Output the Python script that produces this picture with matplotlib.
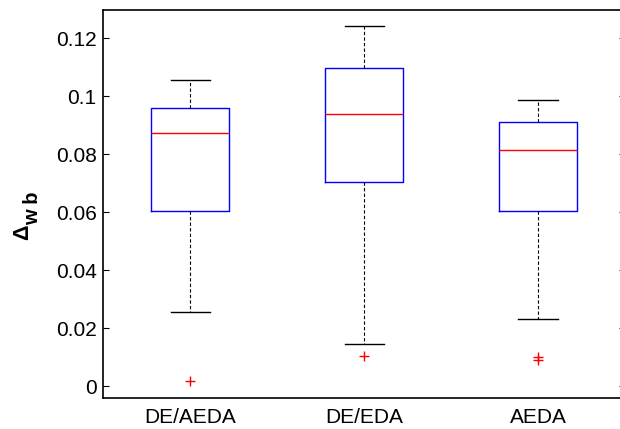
import matplotlib
matplotlib.use("Agg")
import matplotlib.pyplot as plt

plt.rcParams["font.family"] = ["Liberation Sans", "DejaVu Sans"]

# summary statistics of each algorithm's runs
methods = ["DE/AEDA", "DE/EDA", "AEDA"]
whisker_low = [0.0256, 0.0146, 0.0232]
q1 = [0.0605, 0.0703, 0.0605]
medians = [0.0873, 0.0939, 0.0815]
q3 = [0.0960, 0.1097, 0.0910]
whisker_high = [0.1055, 0.1241, 0.0986]
outliers = [[0.0017], [0.0103], [0.0099, 0.0091]]

stats = []
for i in range(len(methods)):
	stats.append({
		"label": methods[i],
		"whislo": whisker_low[i],
		"q1": q1[i],
		"med": medians[i],
		"q3": q3[i],
		"whishi": whisker_high[i],
		"fliers": outliers[i],
	})

fig = plt.figure(figsize=(6.2, 4.29), dpi=100)
ax = fig.add_axes([0.1669, 0.0711, 0.841, 0.9056])

ax.bxp(stats, positions=[1, 2, 3], widths=0.45, showfliers=True,
	boxprops=dict(color="blue", linewidth=1.0),
	medianprops=dict(color="red", linewidth=1.0),
	whiskerprops=dict(color="black", linestyle=(0, (3, 2)), linewidth=0.8),
	capprops=dict(color="black", linewidth=1.0),
	capwidths=0.225,
	flierprops=dict(marker="+", markeredgecolor="red", markersize=7, markeredgewidth=1.0))

ax.set_xlim(0.5, 3.5)
ax.set_ylim(-0.0043, 0.1297)
ax.set_yticks([0, 0.02, 0.04, 0.06, 0.08, 0.1, 0.12])
ax.set_yticklabels(["0", "0.02", "0.04", "0.06", "0.08", "0.1", "0.12"])
ax.tick_params(axis="y", direction="in", length=4, right=True, labelsize=15, width=0.8, pad=5)
ax.tick_params(axis="x", length=0, labelsize=15, pad=7)
for s in ax.spines.values():
	s.set_linewidth(1.2)

# y label: Delta with a large subscript, as MATLAB draws it
fig.text(0.0447, 0.4406, "\u0394", rotation=90, rotation_mode="anchor",
	ha="left", va="baseline", fontsize=15.5, fontweight="bold")
fig.text(0.0618, 0.4744, "w b", rotation=90, rotation_mode="anchor",
	ha="left", va="baseline", fontsize=14.5, fontweight="bold")

fig.savefig("out.png", dpi=100)
